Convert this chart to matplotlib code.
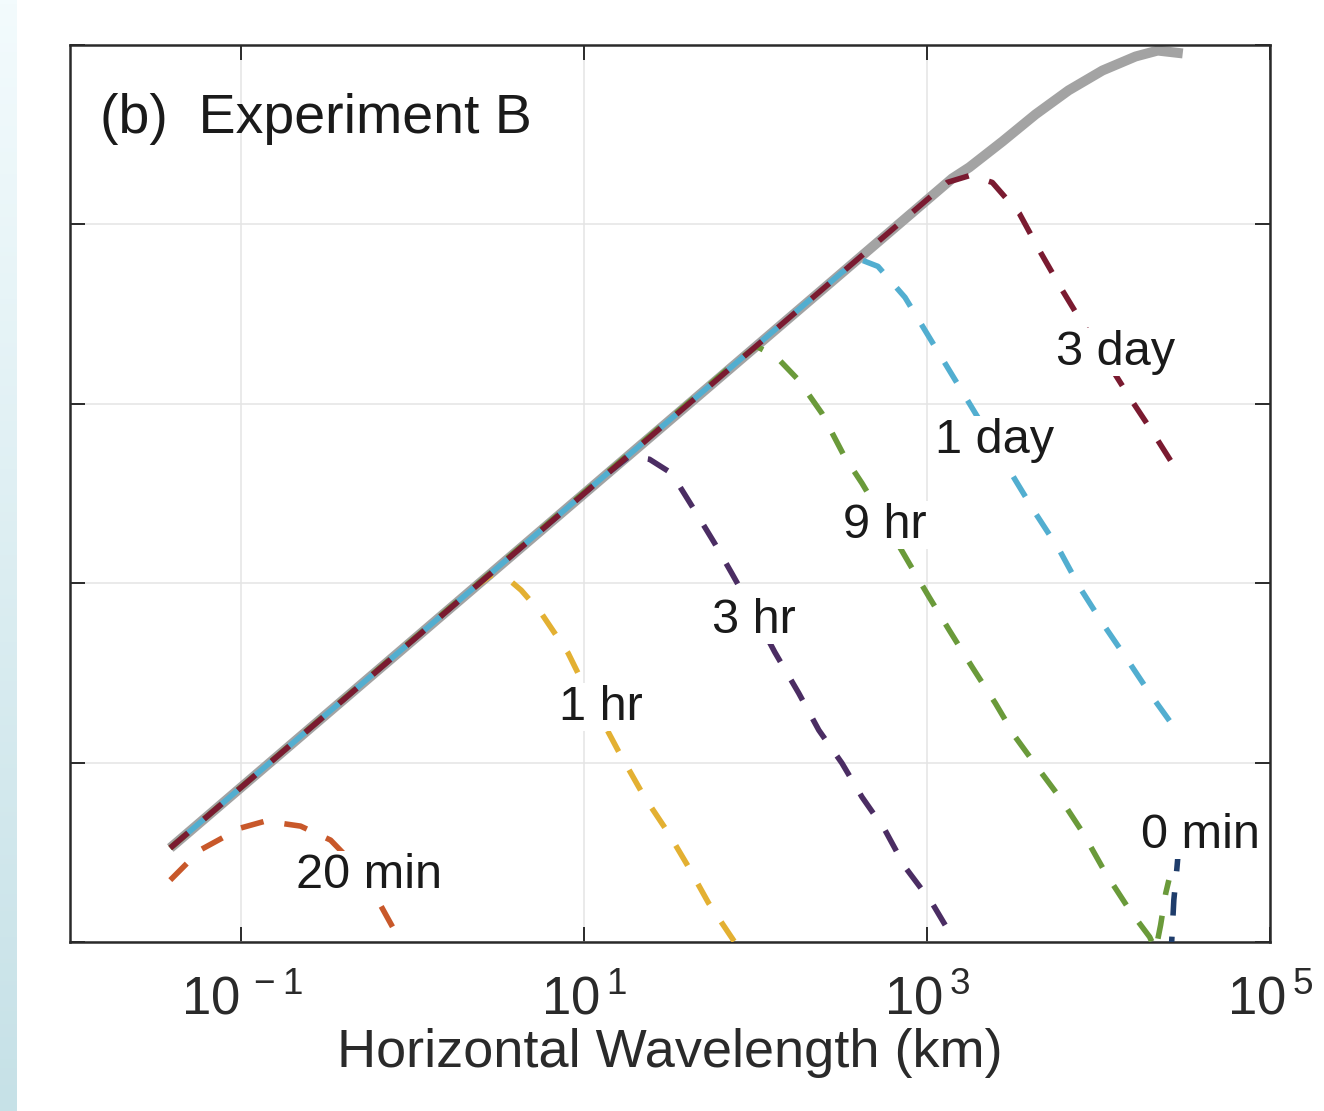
import numpy as np
import matplotlib.pyplot as plt
from matplotlib.colors import LinearSegmentedColormap

plt.rcParams['font.family'] = ['Liberation Sans', 'DejaVu Sans']
plt.rcParams['mathtext.fontset'] = 'custom'
plt.rcParams['mathtext.rm'] = 'Liberation Sans'

# log10 of horizontal wavelength (km) and log10 of spectral energy
ref_logx = [-1.415, 3.146, 3.246, 3.439, 3.632, 3.825, 4.023, 4.216, 4.345, 4.491]
ref_logy = [0.524, 4.256, 4.318, 4.462, 4.613, 4.747, 4.858, 4.936, 4.969, 4.953]

min0_logx = [4.421, 4.439, 4.456, 4.468]
min0_logy = [-0.10, 0.234, 0.401, 0.535]

min20_logx = [-1.415, -1.240, -1.006, -0.860, -0.655, -0.480, -0.333, -0.205, -0.070, -0.030]
min20_logy = [0.345, 0.513, 0.635, 0.674, 0.646, 0.568, 0.423, 0.234, 0.0, -0.10]

hr1_logx = [-1.415, 0.339, 0.456, 0.544, 0.632, 0.749, 0.906, 1.041, 1.199, 1.351, 1.491, 1.608, 1.725, 1.877, 1.92]
hr1_logy = [0.524, 1.961, 2.045, 2.033, 1.961, 1.833, 1.610, 1.348, 1.064, 0.808, 0.607, 0.418, 0.217, 0.0, -0.10]

hr3_logx = [-1.415, 1.129, 1.263, 1.380, 1.509, 1.643, 1.760, 1.860, 1.988, 2.111, 2.251, 2.368,
            2.503, 2.620, 2.754, 2.871, 3.029, 3.164, 3.21]
hr3_logy = [0.524, 2.607, 2.708, 2.691, 2.613, 2.407, 2.223, 2.056, 1.838, 1.616, 1.387, 1.181,
            0.997, 0.808, 0.624, 0.418, 0.217, 0.0, -0.10]

hr9_logx = [-1.415, 1.889, 2.006, 2.123, 2.251, 2.386, 2.520, 2.620, 2.766, 2.895, 3.012, 3.129,
            3.263, 3.398, 3.515, 3.655, 3.772, 3.906, 4.041, 4.181, 4.298, 4.333, 4.362, 4.392, 4.410]
hr9_logy = [0.524, 3.237, 3.320, 3.259, 3.131, 2.947, 2.702, 2.557, 2.323, 2.111, 1.922, 1.738,
            1.532, 1.331, 1.142, 0.958, 0.808, 0.613, 0.384, 0.178, 0.028, -0.045, 0.095, 0.273, 0.345]

day1_logx = [-1.415, 2.503, 2.608, 2.713, 2.871, 2.988, 3.129, 3.246, 3.380, 3.515, 3.632, 3.772,
             3.889, 4.023, 4.158, 4.298, 4.474]
day1_logy = [0.524, 3.733, 3.805, 3.766, 3.593, 3.409, 3.187, 3.003, 2.791, 2.574, 2.390, 2.184,
             1.978, 1.777, 1.588, 1.387, 1.153]

day3_logx = [-1.415, 3.117, 3.251, 3.380, 3.538, 3.655, 3.789, 3.906, 4.053, 4.181, 4.316, 4.474]
day3_logy = [0.524, 4.234, 4.273, 4.234, 4.061, 3.855, 3.632, 3.448, 3.231, 3.036, 2.841, 2.602]

labels = ['0 min', '20 min', '1 hr', '3 hr', '9 hr', '1 day', '3 day']
label_logx = [4.596, -0.257, 1.099, 1.988, 2.754, 3.392, 4.099]
label_logy = [0.596, 0.373, 1.309, 1.794, 2.323, 2.797, 3.287]

colors = ['#1f3d6b', '#c8582a', '#e3b032', '#4b2d63', '#6a9a3a', '#52aed0', '#7a1a30']
curves_x = [min0_logx, min20_logx, hr1_logx, hr3_logx, hr9_logx, day1_logx, day3_logx]
curves_y = [min0_logy, min20_logy, hr1_logy, hr3_logy, hr9_logy, day1_logy, day3_logy]


def main():
    fig = plt.figure(figsize=(13.24, 11.11), dpi=100)

    # pale slide-background strip on the left
    strip = fig.add_axes([0, 0, 17 / 1324, 1])
    grad = np.linspace(0, 1, 256).reshape(-1, 1)
    cmap = LinearSegmentedColormap.from_list('strip', ['#f3fbfd', '#c6e1e7'])
    strip.imshow(grad, aspect='auto', cmap=cmap)
    strip.axis('off')

    ax = fig.add_axes([70 / 1324, 1 - 942 / 1111, 1200 / 1324, 897 / 1111])

    ax.plot(10 ** np.array(ref_logx), ref_logy, color='#a3a3a3', lw=7.2,
            solid_capstyle='butt', zorder=2)

    for i, (lx, ly, color) in enumerate(zip(curves_x, curves_y, colors)):
        # the 1 day dashes sit in the gaps of the 3 day dashes along the shared line
        offset = 4.2 if labels[i] == '1 day' else 0
        ax.plot(10 ** np.array(lx), ly, color=color, lw=4.0,
                ls=(offset, (4.2, 3.8)), zorder=3 + i)

    for text, lx, ly in zip(labels, label_logx, label_logy):
        ax.text(10 ** lx, ly, text, fontsize=35, ha='center', va='center', zorder=20,
                color='#1a1a1a', bbox=dict(facecolor='white', edgecolor='none', pad=1))

    ax.text(0.025, 0.918, '(b)  Experiment B', transform=ax.transAxes, fontsize=40,
            ha='left', va='center', zorder=20, color='#1a1a1a')

    ax.set_xscale('log')
    ax.set_xlim(1e-2, 1e5)
    ax.set_ylim(0, 5)
    ax.set_xticks([1e-1, 1e1, 1e3, 1e5])
    ax.set_xticklabels([r'$\mathregular{10^{\,-1}}$', r'$\mathregular{10^{\,1}}$',
                        r'$\mathregular{10^{\,3}}$', r'$\mathregular{10^{\,5}}$'])
    ax.xaxis.set_minor_locator(plt.NullLocator())
    ax.set_yticks([0, 1, 2, 3, 4, 5])
    ax.set_yticklabels([])
    ax.tick_params(direction='in', length=10.5, width=1.4, top=True, right=True,
                   labelsize=38, pad=24, colors='#2a2a2a')
    ax.grid(True, color='#e4e4e4', lw=1.1, zorder=0)
    ax.set_axisbelow(True)
    for s in ax.spines.values():
        s.set_linewidth(1.8)
        s.set_color('#2a2a2a')
    ax.set_xlabel('Horizontal Wavelength (km)', fontsize=39, labelpad=2, color='#2a2a2a')

    fig.savefig('out.png', dpi=100)


if __name__ == '__main__':
    main()
